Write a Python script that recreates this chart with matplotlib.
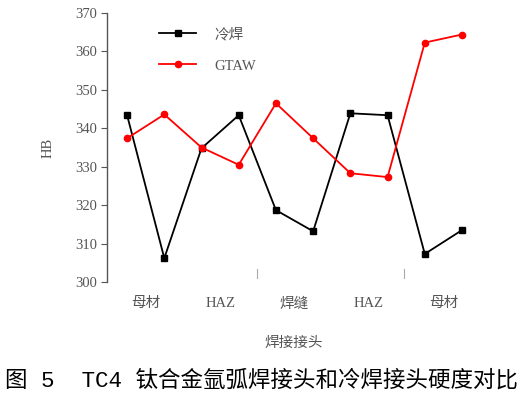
import numpy as np
import matplotlib
matplotlib.use("Agg")
import matplotlib.pyplot as plt

plt.rcParams['font.family'] = ['Liberation Serif', 'Noto Sans CJK SC', 'DejaVu Sans']

# data
positions = np.arange(10)
cold_weld = [343.4, 306.2, 334.8, 343.4, 318.7, 313.2, 343.9, 343.4, 307.3, 313.5]
gtaw = [337.4, 343.6, 335.0, 330.5, 346.5, 337.4, 328.3, 327.3, 362.3, 364.4]
cat_pos = [0.5, 2.5, 4.5, 6.5, 8.5]
cat_labels = ["母材", "HAZ", "焊缝", "HAZ", "母材"]
y_ticks = [300, 310, 320, 330, 340, 350, 360, 370]

grey = "#555555"

fig = plt.figure(figsize=(5.23, 3.96), dpi=100)
ax = fig.add_axes([107 / 523, 1 - 282 / 396, (480.6 - 107) / 523, (282 - 13) / 396])

ax.plot(positions, cold_weld, color="black", marker="s", markersize=4, lw=1.3, label="冷焊")
ax.plot(positions, gtaw, color="red", marker="o", markersize=4.5, lw=1.3, label="GTAW")

ax.set_xlim(-0.54, 9.5)
ax.set_ylim(300, 370)
ax.set_yticks(y_ticks)
ax.set_yticklabels([str(v) for v in y_ticks], color=grey, fontsize=10.5)
ax.set_xticks(cat_pos)
ax.set_xticklabels(cat_labels, color=grey, fontsize=10.5)
ax.tick_params(axis="x", length=0, pad=11)
ax.tick_params(axis="y", direction="out", length=4, width=0.8, color=grey, pad=3)

for s in ["top", "right", "bottom"]:
    ax.spines[s].set_visible(False)
ax.spines["left"].set_color(grey)
ax.spines["left"].set_linewidth(1.0)

# small separator marks under the plot
for xm in [3.5, 7.45]:
    ax.plot([xm, xm], [301, 303.5], color="#aaaaaa", lw=0.8, clip_on=False)

ax.set_ylabel("HB", color=grey, fontsize=10.5, labelpad=15)
ax.set_xlabel("焊接接头", color=grey, fontsize=10.5, labelpad=19)

leg = ax.legend(loc="upper left", bbox_to_anchor=(0.105, 0.995), frameon=False,
                fontsize=10.5, handlelength=2.5, labelspacing=1.25, handletextpad=1.3)
for t in leg.get_texts():
    t.set_color(grey)

fig.text(0.5, 1 - 381 / 396, "图 5  TC4 钛合金氩弧焊接头和冷焊接头硬度对比",
         ha="center", va="center", fontsize=16.2, color="black",
         family=['Liberation Mono', 'Noto Sans CJK SC', 'DejaVu Sans'])

fig.savefig("out.png", dpi=100)
